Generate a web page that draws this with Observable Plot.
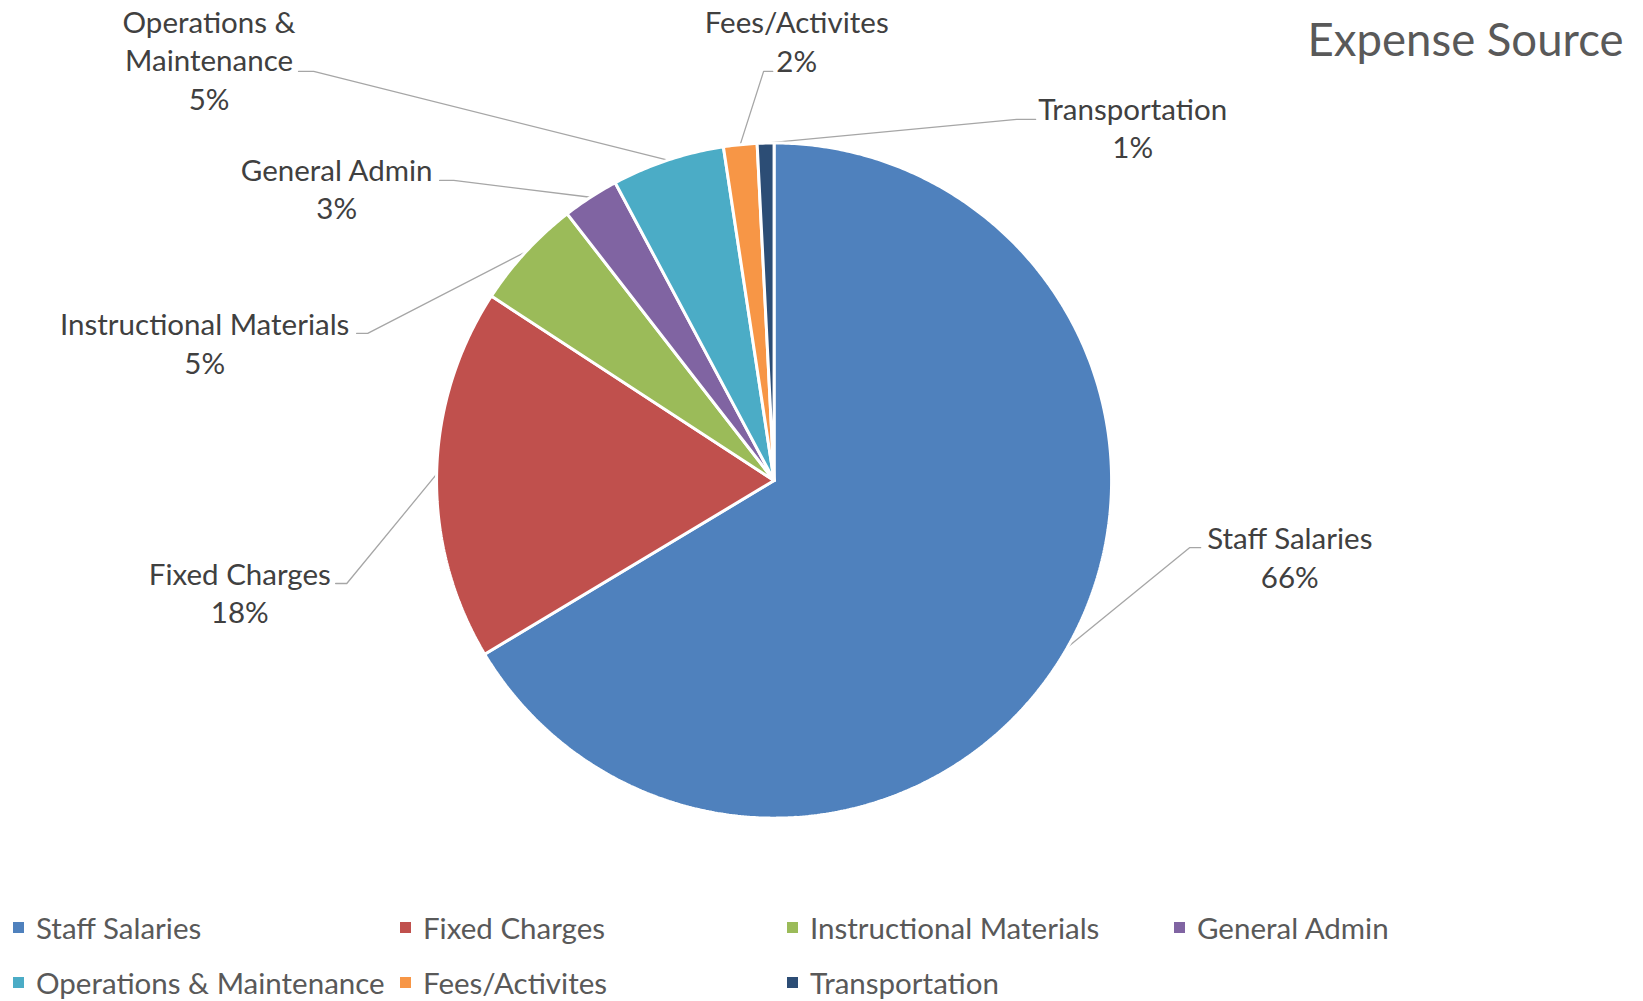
<!DOCTYPE html>
<html><head><meta charset="utf-8">
<script src="https://cdn.jsdelivr.net/npm/d3@7"></script>
<script src="https://cdn.jsdelivr.net/npm/@observablehq/plot@0.6"></script>
<style>
body{margin:0;background:#fff;font-family:Lato,"Open Sans",sans-serif;}
#chart svg{display:block}
#legend{display:grid;grid-template-columns:repeat(4,387px);padding-left:13px;width:1630px}
.item{display:flex;align-items:center;height:55px;font-size:29.5px;color:#595959;white-space:nowrap}
.sw{width:11px;height:11px;margin-right:12px;flex:none}
</style></head><body>
<div id="chart"></div><div id="legend"></div>
<script>
const title = "Expense Source";
const categories = ["Staff Salaries","Fixed Charges","Instructional Materials","General Admin","Operations & Maintenance","Fees/Activites","Transportation"];
const values = [66.4, 17.8, 5.3, 2.7, 5.4, 1.6, 0.8];
const colors = ["#4f81bd","#c0504d","#9bbb59","#8064a2","#4bacc6","#f79646","#2c4d75"];

// layout (pie radius = 1 unit, y up)
const W = 1643, H = 900;
const xDomain = [-2.292, 2.576], yDomain = [-1.244, 1.422];
const labelPos = [[1.528,-0.224],[-1.583,-0.329],[-1.687,0.411],[-1.296,0.868],[-1.674,1.249],[0.067,1.305],[1.0625,1.0485]];
const leaderBends = [
  [[1.231,-0.199],[1.264,-0.199]],
  [[-1.266,-0.305],[-1.299,-0.305]],
  [[-1.204,0.436],[-1.237,0.436]],
  [[-0.949,0.889],[-0.991,0.889]],
  [[-1.364,1.212],[-1.409,1.212]],
  [[-0.031,1.212],[-0.004,1.212]],
  [[0.719,1.070],[0.775,1.070]]
];

const total = d3.sum(values);
const arcs = d3.pie().sort(null).value(d => d)(values);
const slices = [];
const leaders = [];
arcs.forEach((p, i) => {
  const cat = categories[i];
  slices.push({cat, x: 0, y: 0});
  const n = Math.max(2, Math.ceil((p.endAngle - p.startAngle) / (Math.PI / 360)));
  for (let k = 0; k <= n; k++) {
    const a = p.startAngle + (p.endAngle - p.startAngle) * k / n;
    slices.push({cat, x: Math.sin(a), y: Math.cos(a)});
  }
  slices.push({cat, x: 0, y: 0});
  const mid = (p.startAngle + p.endAngle) / 2;
  leaders.push({cat, x: Math.sin(mid), y: Math.cos(mid)});
  leaderBends[i].forEach(([x, y]) => leaders.push({cat, x, y}));
});

function wrap(s) {
  if (s.length <= 23) return s;
  const m = s.length / 2;
  let best = -1;
  for (let i = 0; i < s.length; i++) if (s[i] === " " && (best < 0 || Math.abs(i - m) < Math.abs(best - m))) best = i;
  return s.slice(0, best) + "\n" + s.slice(best + 1);
}
const labels = categories.map((c, i) => ({
  x: labelPos[i][0], y: labelPos[i][1],
  text: wrap(c) + "\n" + Math.round(values[i] / total * 100) + "%"
}));

const chart = Plot.plot({
  width: W, height: H, margin: 0,
  x: {domain: xDomain, axis: null},
  y: {domain: yDomain, axis: null},
  color: {domain: categories, range: colors},
  style: {fontFamily: "Lato, 'Open Sans', sans-serif", background: "white"},
  marks: [
    Plot.line(leaders, {x: "x", y: "y", z: "cat", stroke: "#a6a6a6", strokeWidth: 1.3, curve: "linear"}),
    Plot.line(slices, {x: "x", y: "y", z: "cat", fill: "cat", stroke: "white", strokeWidth: 3, curve: "linear", strokeLinejoin: "miter"}),
    Plot.text(labels, {x: "x", y: "y", text: "text", fontSize: 29.5, fill: "#404040", lineHeight: 1.315}),
    Plot.text([title], {frameAnchor: "top-right", textAnchor: "end", lineAnchor: "middle", dx: -20, dy: 41, fontSize: 45.5, fill: "#595959"})
  ]
});
document.getElementById("chart").appendChild(chart);

const leg = document.getElementById("legend");
categories.forEach((c, i) => {
  const it = document.createElement("div");
  it.className = "item";
  const sw = document.createElement("span");
  sw.className = "sw";
  sw.style.background = colors[i];
  it.appendChild(sw);
  it.appendChild(document.createTextNode(c));
  leg.appendChild(it);
});
</script>
</body></html>
